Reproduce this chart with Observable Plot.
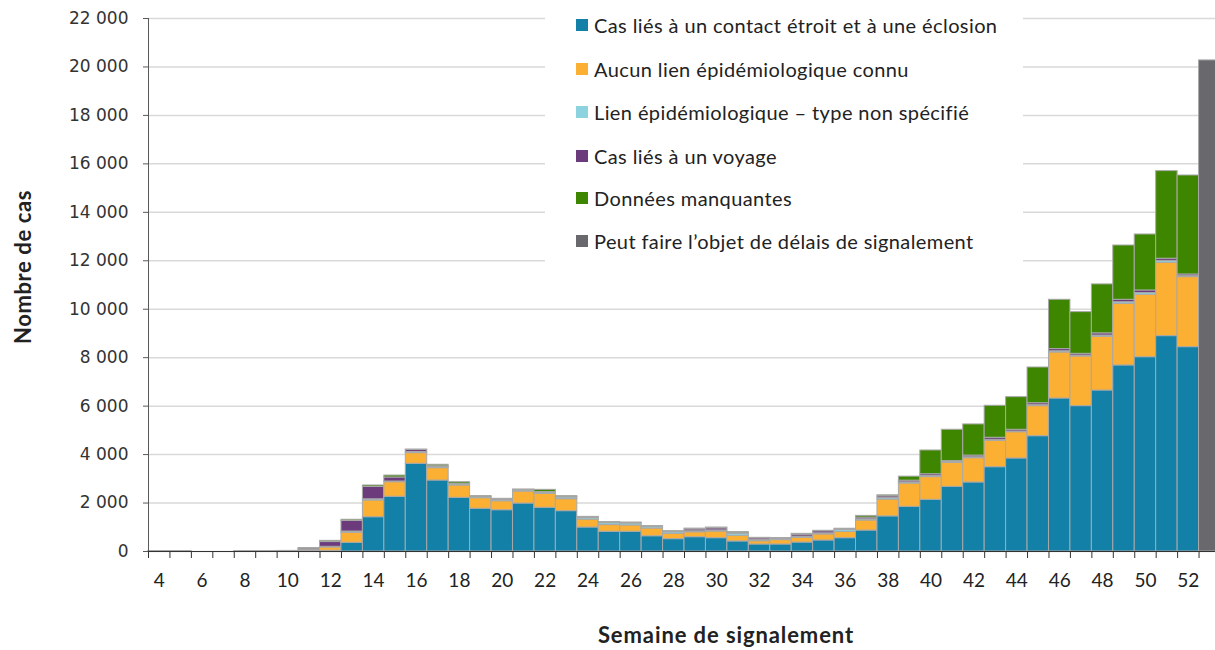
<!DOCTYPE html>
<html>
<head>
<meta charset="utf-8">
<script src="https://cdn.jsdelivr.net/npm/d3@7"></script>
<script src="https://cdn.jsdelivr.net/npm/@observablehq/plot@0.6"></script>
<style>
  html, body { margin: 0; padding: 0; background: white; overflow: hidden; }
  #wrap { position: relative; width: 1215px; height: 650px; overflow: hidden; font-family: Lato, "Open Sans", sans-serif; color: #222; }
  #chart { position: absolute; left: 0; top: 0; width: 1220px; }
  #chart svg { max-width: none !important; }
  #legend { position: absolute; left: 545px; top: 0; width: 478px; height: 263px; background: white; }
  .item { position: absolute; left: 31px; height: 24px; display: flex; align-items: center; font-size: 20px; letter-spacing: 0.4px; white-space: nowrap; }
  .sw { width: 12px; height: 12px; margin-right: 6px; flex: none; }
  .ytitle { position: absolute; left: 22px; top: 267px; transform: translate(-50%, -50%) rotate(-90deg); font-weight: bold; font-size: 22px; letter-spacing: 0.6px; white-space: nowrap; }
  .xtitle { position: absolute; left: 726px; top: 634px; transform: translate(-50%, -50%); font-weight: bold; font-size: 22px; letter-spacing: 0.9px; white-space: nowrap; }
</style>
</head>
<body>
<div id="wrap">
  <div id="chart"></div>
  <div id="legend"></div>
  <div class="ytitle">Nombre de cas</div>
  <div class="xtitle">Semaine de signalement</div>
</div>
<script>
const weeks = d3.range(4, 54);
const labelWeeks = d3.range(4, 53, 2);
const yTicks = d3.range(0, 22001, 2000);

const categories = [
  "Cas liés à un contact étroit et à une éclosion",
  "Aucun lien épidémiologique connu",
  "Lien épidémiologique – type non spécifié",
  "Cas liés à un voyage",
  "Données manquantes",
  "Peut faire l’objet de délais de signalement"
];
const colors = ["#1380a8", "#fbb034", "#8dd3df", "#6b3b7b", "#3f8600", "#69696d"];

// weeks 4 .. 53
const closeContact = [5,5,0,0,5,5,10,25,30,360,1415,2260,3620,2930,2215,1765,1705,1980,1805,1665,990,815,815,630,510,590,550,415,290,290,370,455,550,865,1450,1845,2135,2670,2850,3480,3840,4760,6315,6000,6645,7680,8020,8890,8435,0];
const noLink = [5,5,0,0,0,0,5,25,135,415,690,600,440,510,510,435,370,495,580,495,330,275,260,320,220,205,275,235,135,180,195,250,260,415,695,960,935,990,1000,1090,1085,1240,1900,2050,2220,2545,2580,3030,2890,0];
const unspecified = [0,0,0,0,0,0,0,15,30,50,50,30,50,50,50,50,60,50,50,70,70,80,80,60,65,40,45,90,45,50,50,45,80,50,60,50,50,30,40,40,30,40,50,40,50,65,70,75,40,0];
const travel = [10,10,0,0,5,5,10,55,195,435,510,165,80,30,20,15,20,15,20,25,25,25,25,25,30,75,85,40,70,25,80,85,30,70,70,70,70,40,70,85,70,80,90,70,90,100,105,90,70,0];
const missing = [0,0,0,0,0,0,0,20,50,50,60,80,20,60,65,20,20,20,90,30,15,15,15,10,10,35,35,20,25,10,35,20,20,70,45,165,980,1295,1285,1320,1345,1475,2035,1720,2020,2240,2310,3615,4085,0];
const delayed = [0,0,0,0,0,0,0,0,0,0,0,0,0,0,0,0,0,0,0,0,0,0,0,0,0,0,0,0,0,0,0,0,0,0,0,0,0,0,0,0,0,0,0,0,0,0,0,0,0,20270];

const series = [closeContact, noLink, unspecified, travel, missing, delayed];
const data = weeks.flatMap((w, i) => categories.map((c, j) => ({week: w, cat: c, value: series[j][i]})));

const W = 1220, ML = 148, MR = 0;
const bw = (W - ML - MR) / weeks.length;
const fmt = v => d3.format(",")(v).replace(/,/g, " ");

const chart = Plot.plot({
  width: W, height: 650,
  marginTop: 18, marginBottom: 99, marginLeft: ML, marginRight: MR,
  style: {fontFamily: "Lato, sans-serif", background: "white", color: "#222", maxWidth: "none"},
  x: {type: "band", domain: weeks, paddingInner: 0, paddingOuter: 0, align: 0.5, round: false},
  y: {domain: [0, 22000]},
  color: {domain: categories, range: colors},
  marks: [
    Plot.gridY(yTicks, {stroke: "#d9d9d9", strokeOpacity: 1, strokeWidth: 1.5}),
    Plot.barY(data, {x: "week", y: "value", fill: "cat", order: categories, stroke: "#a8a8a8", strokeWidth: 1}),
    Plot.frame({anchor: "left", stroke: "#595959"}),
    Plot.axisY({ticks: yTicks, tickSize: 5, tickPadding: 15, tickFormat: fmt, fontFamily: "DejaVu Sans", fontSize: 17, label: null, stroke: "#595959", color: "#333"}),
    Plot.ruleY([0], {stroke: "#333", strokeWidth: 1.2}),
    Plot.axisX({ticks: weeks, tickSize: 7, tickFormat: () => "", dx: -bw / 2, label: null, stroke: "#333"}),
    Plot.axisX({ticks: labelWeeks, tickSize: 0, tickPadding: 22, fontSize: 19, label: null, fill: "#222"})
  ]
});
document.getElementById("chart").appendChild(chart);

const legend = document.getElementById("legend");
const rowCenters = [25, 69, 112, 156, 198, 241];
categories.forEach((c, i) => {
  const it = document.createElement("div");
  it.className = "item";
  it.style.top = (rowCenters[i] - 12) + "px";
  const sw = document.createElement("span");
  sw.className = "sw";
  sw.style.background = colors[i];
  const tx = document.createElement("span");
  tx.textContent = c;
  it.appendChild(sw);
  it.appendChild(tx);
  legend.appendChild(it);
});
</script>
</body>
</html>
